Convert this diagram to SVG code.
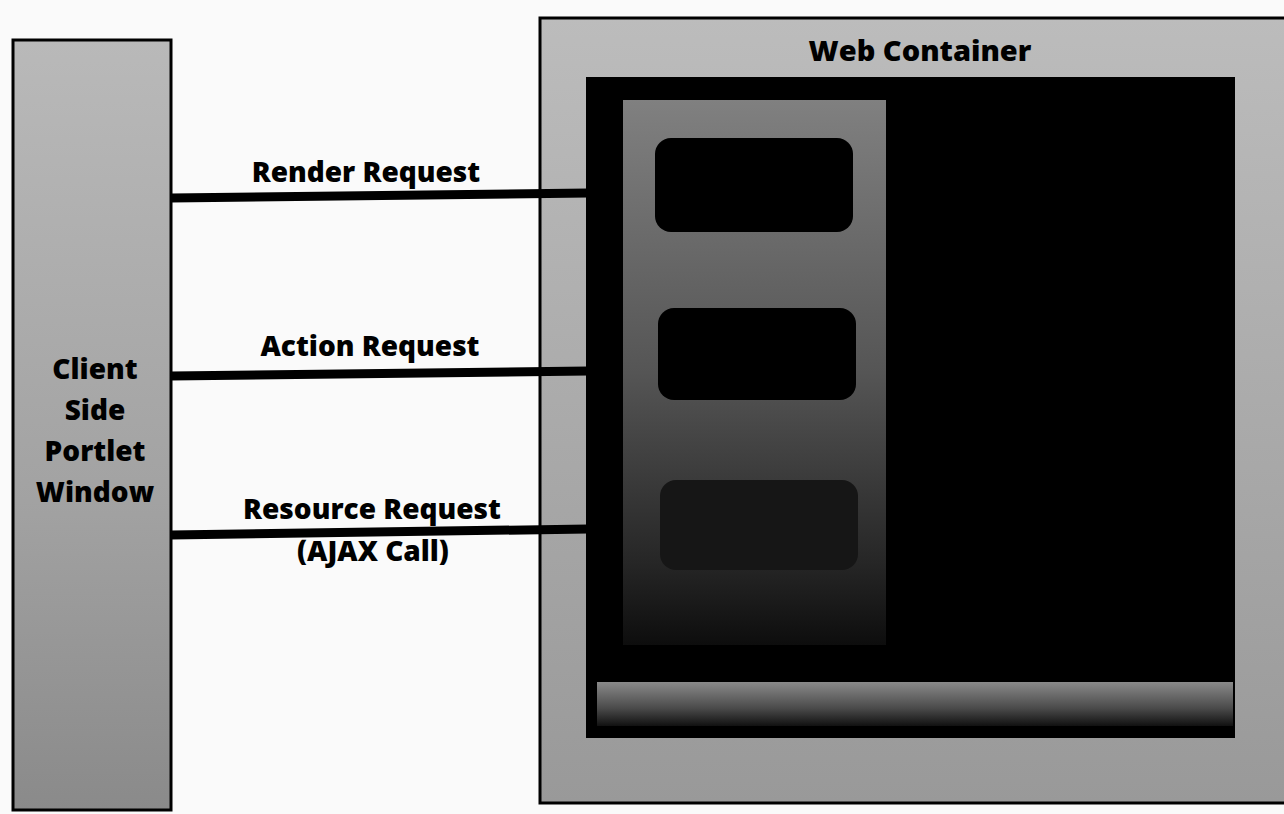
<svg xmlns="http://www.w3.org/2000/svg" width="1284" height="814" viewBox="0 0 1284 814">
<defs>
<style>
.lbl{font-family:"Open Sans","Liberation Sans",sans-serif;font-weight:800;font-size:28px;fill:#000;text-anchor:middle}
.conn{stroke:#000;stroke-width:9;fill:none}
.box{stroke:#000;stroke-width:3}
</style>
<linearGradient id="gLeft" x1="0" y1="0" x2="0" y2="1">
<stop offset="0" stop-color="#b9b9b9"/>
<stop offset="0.6" stop-color="#a2a2a2"/>
<stop offset="1" stop-color="#8a8a8a"/>
</linearGradient>
<linearGradient id="gWeb" x1="0" y1="0" x2="0" y2="1">
<stop offset="0" stop-color="#bcbcbc"/>
<stop offset="1" stop-color="#999"/>
</linearGradient>
<linearGradient id="gPanel" x1="0" y1="0" x2="0" y2="1">
<stop offset="0" stop-color="#808080"/>
<stop offset="0.5" stop-color="#555"/>
<stop offset="0.85" stop-color="#262626"/>
<stop offset="1" stop-color="#0d0d0d"/>
</linearGradient>
<linearGradient id="gBand" x1="0" y1="0" x2="0" y2="1">
<stop offset="0" stop-color="#8a8a8a"/>
<stop offset="0.6" stop-color="#4a4a4a"/>
<stop offset="1" stop-color="#111"/>
</linearGradient>
</defs>
<rect width="1284" height="814" fill="#fafafa"/>
<g id="client">
<rect class="box" x="13" y="40" width="158" height="770" fill="url(#gLeft)"/>
<text class="lbl" x="95" y="379">Client</text>
<text class="lbl" x="95" y="420">Side</text>
<text class="lbl" x="95" y="461">Portlet</text>
<text class="lbl" x="95" y="502">Window</text>
</g>
<g id="web-container">
<rect class="box" x="540" y="18" width="760" height="785" fill="url(#gWeb)"/>
<text class="lbl" x="920" y="61" style="font-size:29px">Web Container</text>
<rect x="586" y="77" width="649" height="661" fill="#000"/>
<rect x="623" y="100" width="263" height="545" fill="url(#gPanel)"/>
<rect x="597" y="682" width="636" height="44" fill="url(#gBand)"/>
</g>
<g id="render-node"><rect x="655" y="138" width="198" height="94" rx="16" fill="#000"/></g>
<g id="action-node"><rect x="658" y="308" width="198" height="92" rx="16" fill="#000"/></g>
<g id="resource-node"><rect x="660" y="480" width="198" height="90" rx="16" fill="#161616"/></g>
<g id="connectors">
<line class="conn" x1="171" y1="198" x2="588" y2="193"/>
<line class="conn" x1="171" y1="376" x2="588" y2="371"/>
<line class="conn" x1="171" y1="535" x2="588" y2="529"/>
<text class="lbl" x="366" y="182">Render Request</text>
<text class="lbl" x="370" y="356">Action Request</text>
<text class="lbl" x="372" y="519">Resource Request</text>
<text class="lbl" x="373" y="561">(AJAX Call)</text>
</g>
</svg>
